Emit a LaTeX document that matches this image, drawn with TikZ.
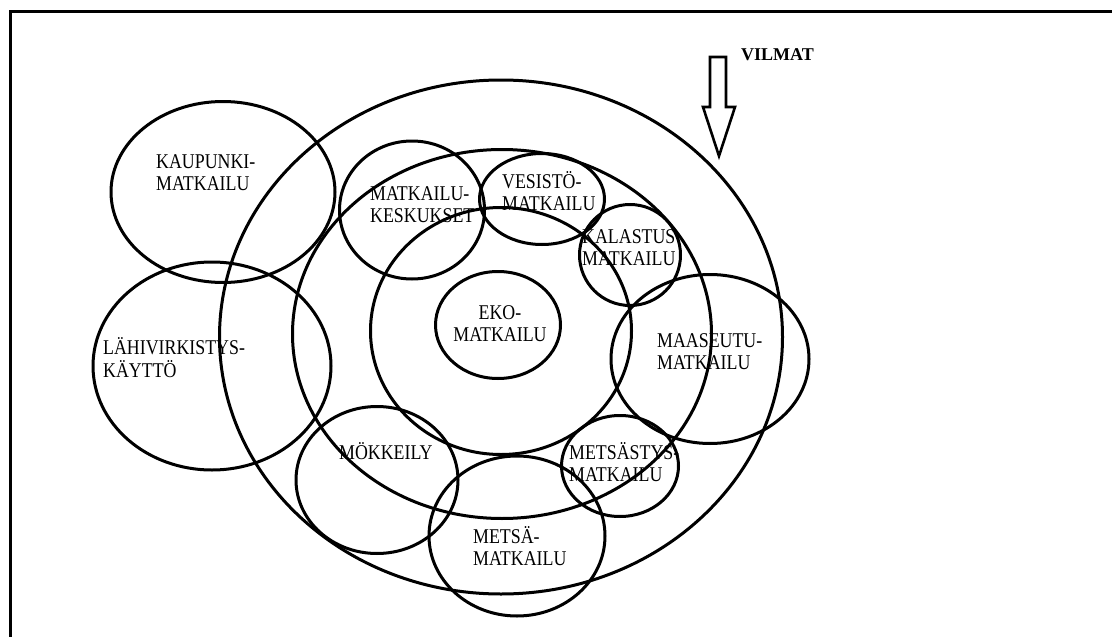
\documentclass[tikz,border=0pt]{standalone}
\usepackage{fontspec}
\setmainfont{Liberation Serif}
\newfontfamily\lblfont[FakeStretch=0.85]{Liberation Serif}
\usetikzlibrary{shapes.geometric}
\newcommand\twolines[1]{\begin{tabular}[t]{@{}l@{}}#1\end{tabular}}
\newcommand\twolinesc[1]{\begin{tabular}[t]{@{}c@{}}#1\end{tabular}}
\begin{document}
\begin{tikzpicture}[x=1pt,y=-1pt,
  ell/.style={draw, ellipse, line width=3pt, inner sep=0pt, outer sep=0pt},
  lbl/.style={anchor=base west, inner sep=0pt, font=\lblfont\fontsize{21}{22.5}\selectfont},
  lblc/.style={anchor=base, inner sep=0pt, font=\lblfont\fontsize{21}{22.5}\selectfont},
  frameline/.style={line width=3pt},
  blockarrow/.style={line width=2.6pt, line join=miter}
]
\useasboundingbox (0,0) rectangle (1112,637);
% frame (top and left edges)
\draw[frameline] (1112,11) -- (10,11) -- (10,637);

% ellipses
\node[ell, minimum width=563pt, minimum height=514pt] (outer) at (501,337) {};
\node[ell, minimum width=419pt, minimum height=369pt] (middle) at (502,334) {};
\node[ell, minimum width=261pt, minimum height=247pt] (inner) at (501,331) {};
\node[ell, minimum width=125pt, minimum height=107pt] (eko) at (498,325) {};
\node[ell, minimum width=224pt, minimum height=181pt] (kaupunki) at (223,192) {};
\node[ell, minimum width=238pt, minimum height=208pt] (lahi) at (212,366) {};
\node[ell, minimum width=145pt, minimum height=138pt] (keskukset) at (412,210) {};
\node[ell, minimum width=125pt, minimum height=91pt] (vesisto) at (542,199) {};
\node[ell, minimum width=101pt, minimum height=101pt] (kalastus) at (630,255) {};
\node[ell, minimum width=198pt, minimum height=169pt] (maaseutu) at (710,359) {};
\node[ell, minimum width=162pt, minimum height=147pt] (mokkeily) at (377,480) {};
\node[ell, minimum width=117pt, minimum height=101pt] (metsastys) at (620,466) {};
\node[ell, minimum width=176pt, minimum height=160pt] (metsa) at (517,536) {};

% block arrow
\draw[blockarrow] (710,57) -- (726,57) -- (726,107) -- (735,107) -- (719,156)
  -- (703,107) -- (710,107) -- cycle;
\node[anchor=base west, inner sep=0pt, font=\bfseries\fontsize{18}{20}\selectfont] (vilmat) at (741,60) {VILMAT};

% labels
\node[lbl] (tkaupunki) at (156,168) {\twolines{KAUPUNKI-\\MATKAILU}};
\node[lbl] (tlahi) at (103,354) {\twolines{LÄHIVIRKISTYS-\\KÄYTTÖ}};
\node[lbl] (tkeskukset) at (370,200) {\twolines{MATKAILU-\\KESKUKSET}};
\node[lbl] (tvesisto) at (502,188) {\twolines{VESISTÖ-\\MATKAILU}};
\node[lbl] (tkalastus) at (582,243) {\twolines{KALASTUS\\MATKAILU}};
\node[lblc] (teko) at (500,319) {\twolinesc{EKO-\\MATKAILU}};
\node[lbl] (tmaaseutu) at (657,347) {\twolines{MAASEUTU-\\MATKAILU}};
\node[lbl] (tmokkeily) at (339,459) {MÖKKEILY};
\node[lbl] (tmetsastys) at (569,459) {\twolines{METSÄSTYS-\\MATKAILU}};
\node[lbl] (tmetsa) at (473,543) {\twolines{METSÄ-\\MATKAILU}};
\end{tikzpicture}
\end{document}
